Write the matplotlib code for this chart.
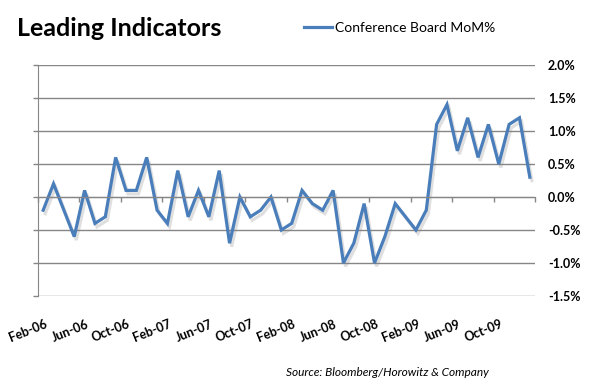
import matplotlib
matplotlib.use("Agg")
import matplotlib.pyplot as plt
import matplotlib.patheffects as pe
from matplotlib.lines import Line2D
import numpy as np

plt.rcParams['font.family'] = ['Lato', 'DejaVu Sans']

# Conference Board leading indicators, month-over-month %, Feb-06 .. Jan-10
mom_pct = [-0.2, 0.2, -0.2, -0.6, 0.1, -0.4, -0.3, 0.6, 0.1, 0.1, 0.6, -0.2,
           -0.4, 0.4, -0.3, 0.1, -0.3, 0.4, -0.7, 0.0, -0.3, -0.2, 0.0, -0.5,
           -0.4, 0.1, -0.1, -0.2, 0.1, -1.0, -0.7, -0.1, -1.0, -0.6, -0.1, -0.3,
           -0.5, -0.2, 1.1, 1.4, 0.7, 1.2, 0.6, 1.1, 0.5, 1.1, 1.2, 0.3]
tick_labels = ["Feb-06", "Jun-06", "Oct-06", "Feb-07", "Jun-07", "Oct-07",
               "Feb-08", "Jun-08", "Oct-08", "Feb-09", "Jun-09", "Oct-09"]
y_ticks = [-1.5, -1.0, -0.5, 0.0, 0.5, 1.0, 1.5, 2.0]
series_name = "Conference Board MoM%"

W, H = 590, 386
grid_col = "#868686"
line_col = "#4A7EBB"

fig = plt.figure(figsize=(W / 100, H / 100), dpi=100)
ax = fig.add_axes([38 / W, 1 - 296 / H, (535 - 38) / W, (296 - 65) / H])

x = np.arange(len(mom_pct))
ax.plot(x, mom_pct, color=line_col, lw=2.3, solid_joinstyle="miter",
        path_effects=[pe.SimpleLineShadow(offset=(1.5, -2.5), shadow_color="gray", alpha=0.25),
                      pe.Normal()])

ax.set_xlim(-0.5, len(mom_pct) - 0.5)
ax.set_ylim(-1.5, 2.0)

# y axis: ticks on the left, labels on the right
ax.set_yticks(y_ticks)
ax.set_yticklabels([f"{v:.1f}%" for v in y_ticks], fontweight="bold", fontsize=9)
ax.tick_params(axis="y", left=True, right=False, labelleft=False, labelright=True,
               length=3.6, width=1, color=grid_col, pad=5.8)
ax.grid(axis="y", color=grid_col, lw=1)
ax.set_axisbelow(True)

# x axis crosses at zero, tick marks between categories
ax.spines["bottom"].set_position(("data", 0))
ax.spines["bottom"].set_color(grid_col)
ax.spines["left"].set_color(grid_col)
ax.spines["top"].set_visible(False)
ax.spines["right"].set_visible(False)
ax.set_xticks(np.arange(-0.5, len(mom_pct), 4))
ax.tick_params(axis="x", length=3.6, width=1, color=grid_col, labelbottom=False)

for i, lab in zip(range(0, len(mom_pct), 4), tick_labels):
    ax.annotate(lab, xy=(i, 0), xycoords=("data", "axes fraction"),
                xytext=(1, -22), textcoords="offset pixels",
                ha="right", va="top", rotation=22, rotation_mode="anchor",
                fontsize=9, fontweight="bold")

fig.text(17 / W, 1 - 28 / H, "Leading Indicators", fontsize=18,
         fontweight="bold", va="center")
handle = Line2D([], [], color=line_col, lw=2.3)
fig.legend([handle], [series_name], loc="center left",
           bbox_to_anchor=(304 / W, 1 - 28 / H), frameon=False,
           fontsize=10, handlelength=2.0, handletextpad=0.2, borderpad=0,
           borderaxespad=0)
fig.text(286 / W, 1 - 372 / H, "Source: Bloomberg/Horowitz & Company",
         style="italic", fontsize=8.6, va="center")

fig.savefig("out.png", dpi=100)
